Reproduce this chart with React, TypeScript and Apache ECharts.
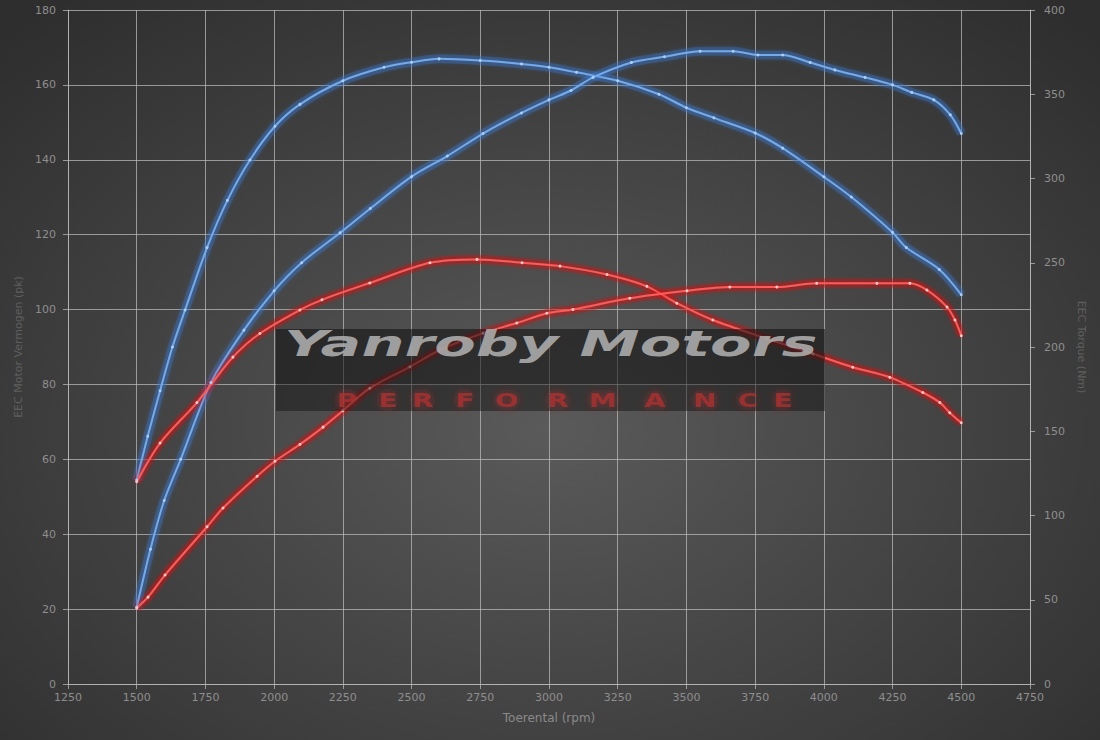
import React, { useEffect, useRef } from "react";
import * as echarts from "echarts";

// Tuned power (pk, left axis)
const tunedPowerRpm = [1500, 1550, 1600, 1660, 1770, 1890, 2000, 2100, 2240, 2350, 2500, 2630, 2760, 2900, 3000, 3080, 3160, 3300, 3420, 3550, 3670, 3760, 3850, 3950, 4040, 4150, 4250, 4320, 4400, 4460, 4500];
const tunedPowerPk = [20.5, 36, 49, 60, 80.5, 94.5, 105, 112.5, 120.5, 127, 135.5, 141, 147, 152.5, 156, 158.5, 162, 166, 167.5, 169, 169, 168, 168, 166, 164, 162, 160, 158, 156, 152, 147];

// Tuned torque (Nm, right axis)
const tunedTorqueRpm = [1500, 1540, 1585, 1630, 1676, 1756, 1830, 1912, 2003, 2094, 2250, 2400, 2500, 2600, 2750, 2900, 3000, 3100, 3250, 3400, 3500, 3600, 3750, 3850, 4000, 4100, 4250, 4300, 4420, 4500];
const tunedTorqueNm = [121, 147, 174, 200, 222, 259, 287, 311, 331, 344, 358, 366, 369, 371, 370, 368, 366, 363, 358, 350, 342, 336, 327, 318, 301, 289, 268, 259, 246, 231];

// Stock torque (Nm, right axis)
const stockTorqueRpm = [1500, 1585, 1719, 1850, 1948, 2094, 2174, 2348, 2567, 2738, 2902, 3040, 3211, 3356, 3465, 3596, 3792, 3960, 4105, 4240, 4360, 4422, 4458, 4500];
const stockTorqueNm = [120, 143, 167, 194, 208, 222, 228, 238, 250, 252, 250, 248, 243, 236, 226, 216, 205, 196, 188, 182, 173, 167, 161, 155];

// Stock power (pk, left axis)
const stockPowerRpm = [1500, 1541, 1603, 1756, 1814, 1938, 2003, 2094, 2178, 2250, 2348, 2494, 2603, 2760, 2883, 2992, 3087, 3294, 3502, 3658, 3829, 3974, 4193, 4313, 4375, 4448, 4477, 4500];
const stockPowerPk = [20.3, 23.2, 29.1, 42, 47, 55.5, 59.5, 64, 68.6, 73, 79, 84.7, 89.2, 93.7, 96.4, 99, 100, 103, 105, 106, 106, 107, 107, 107, 105.2, 100.7, 97.2, 93];

const watermarkTitle = "Yanroby Motors";
const watermarkSub = ["P", "E", "R", "F", "O", "R", "M", "A", "N", "C", "E"];
const watermarkSubX = [347, 388, 423, 465, 507, 558, 603, 655, 705, 748, 783];

const zip = (xs: number[], ys: number[]) => xs.map((x, i) => [x, ys[i]]);

function mkSeries(name: string, xs: number[], ys: number[], yAxisIndex: number, core: string, glow: string, dot: string) {
  const data = zip(xs, ys);
  return [
    {
      name: name + " glow",
      type: "line",
      yAxisIndex,
      data,
      smooth: 0.3,
      showSymbol: false,
      silent: true,
      lineStyle: { width: 9, color: glow, opacity: 0.35 },
      z: 2,
    },
    {
      name,
      type: "line",
      yAxisIndex,
      data,
      smooth: 0.3,
      symbol: "circle",
      symbolSize: 3,
      showSymbol: true,
      itemStyle: { color: dot },
      lineStyle: { width: 2, color: core, shadowBlur: 6, shadowColor: glow },
      z: 3,
    },
  ];
}

export default function App() {
  const ref = useRef<HTMLDivElement>(null);
  useEffect(() => {
    if (!ref.current) return;
    const chart = echarts.init(ref.current, undefined, { renderer: "svg" });
    const gridColor = "rgba(185,185,185,0.75)";
    const labelColor = "#8e8e8e";
    const font = "DejaVu Sans";
    const subLetters = watermarkSub.map((ch, i) => ({
      type: "text",
      x: watermarkSubX[i],
      y: 400,
      scaleX: 1.4,
      silent: true,
      z: 10,
      style: {
        text: ch,
        fill: "rgba(180,50,50,0.7)",
        font: "bold 20px " + font,
        align: "center",
        verticalAlign: "middle",
        textShadowBlur: 10,
        textShadowColor: "rgba(200,40,40,0.9)",
      },
    }));
    chart.setOption({
      animation: false,
      backgroundColor: "transparent",
      grid: { left: 68, right: 70, top: 10, bottom: 56 },
      xAxis: {
        type: "value",
        min: 1250,
        max: 4750,
        interval: 250,
        name: "Toerental (rpm)",
        nameLocation: "middle",
        nameGap: 28,
        nameTextStyle: { color: "#8a8a8a", fontSize: 12, fontFamily: font },
        axisLine: { show: true, lineStyle: { color: gridColor } },
        axisTick: { show: true, length: 5, lineStyle: { color: gridColor } },
        axisLabel: { color: labelColor, fontSize: 11, fontFamily: font, margin: 8, formatter: (v: number) => String(v) },
        splitLine: { show: true, lineStyle: { color: gridColor, width: 1 } },
      },
      yAxis: [
        {
          type: "value",
          min: 0,
          max: 180,
          interval: 20,
          position: "left",
          name: "EEC Motor Vermogen (pk)",
          nameLocation: "middle",
          nameGap: 43,
          nameTextStyle: { color: "#5f5f5f", fontSize: 11, fontFamily: font },
          axisLine: { show: true, lineStyle: { color: gridColor } },
          axisTick: { show: true, length: 5, lineStyle: { color: gridColor } },
          axisLabel: { color: labelColor, fontSize: 11, fontFamily: font, margin: 12 },
          splitLine: { show: true, lineStyle: { color: gridColor, width: 1 } },
        },
        {
          type: "value",
          min: 0,
          max: 400,
          interval: 50,
          position: "right",
          name: "EEC Torque (Nm)",
          nameLocation: "middle",
          nameGap: 46,
          nameRotate: -90,
          nameTextStyle: { color: "#5f5f5f", fontSize: 11, fontFamily: font },
          axisLine: { show: true, lineStyle: { color: gridColor } },
          axisTick: { show: true, length: 5, lineStyle: { color: gridColor } },
          axisLabel: { color: labelColor, fontSize: 11, fontFamily: font, margin: 14 },
          splitLine: { show: false },
        },
      ],
      graphic: [
        {
          type: "rect",
          shape: { x: 276, y: 329, width: 549, height: 55 },
          style: { fill: "rgba(15,15,15,0.55)" },
          silent: true,
          z: 9,
        },
        {
          type: "rect",
          shape: { x: 276, y: 384, width: 549, height: 27 },
          style: { fill: "rgba(15,15,15,0.45)" },
          silent: true,
          z: 9,
        },
        {
          type: "text",
          x: 284,
          y: 344,
          scaleX: 1.68,
          silent: true,
          z: 10,
          style: {
            text: watermarkTitle,
            fill: "rgba(175,175,175,0.88)",
            font: "italic bold 36px " + font,
            align: "left",
            verticalAlign: "middle",
          },
        },
        ...subLetters,
      ],
      series: [
        ...mkSeries("Tuned torque", tunedTorqueRpm, tunedTorqueNm, 1, "#74aaea", "#3a78d0", "#a9cdf3"),
        ...mkSeries("Tuned power", tunedPowerRpm, tunedPowerPk, 0, "#74aaea", "#3a78d0", "#a9cdf3"),
        ...mkSeries("Stock torque", stockTorqueRpm, stockTorqueNm, 1, "#ff5a5a", "#d81414", "#ffc0c0"),
        ...mkSeries("Stock power", stockPowerRpm, stockPowerPk, 0, "#ff5a5a", "#d81414", "#ffc0c0"),
      ],
    });
    return () => chart.dispose();
  }, []);
  return (
    <div
      ref={ref}
      style={{
        position: "absolute",
        left: 0,
        top: 0,
        width: 1100,
        height: 740,
        background: "radial-gradient(ellipse 70% 75% at 50% 58%, #5a5a5a 0%, #464646 45%, #2e2e2e 100%)",
      }}
    />
  );
}
